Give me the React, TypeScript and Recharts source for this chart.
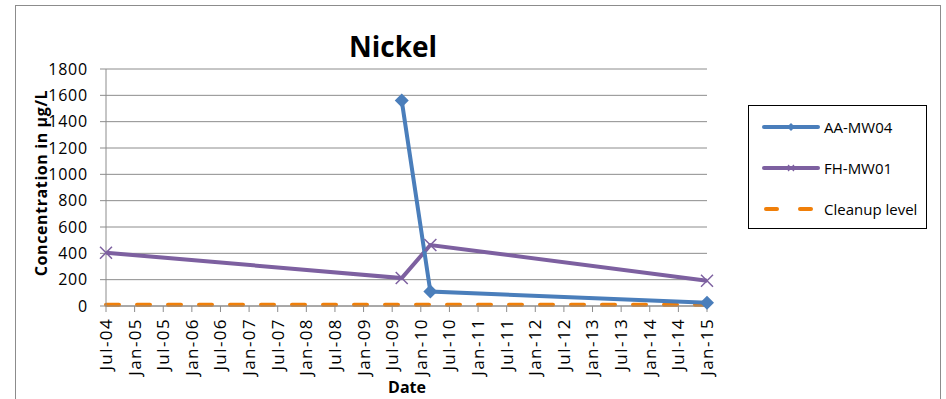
import React from 'react';
import { LineChart, Line, XAxis, YAxis, CartesianGrid, Legend, Label } from 'recharts';

// tick labels, every 6 months starting Jul-04
const tickLabels = [
  'Jul-04', 'Jan-05', 'Jul-05', 'Jan-06', 'Jul-06', 'Jan-07', 'Jul-07', 'Jan-08',
  'Jul-08', 'Jan-09', 'Jul-09', 'Jan-10', 'Jul-10', 'Jan-11', 'Jul-11', 'Jan-12',
  'Jul-12', 'Jan-13', 'Jul-13', 'Jan-14', 'Jul-14', 'Jan-15',
];
const yTicks = [0, 200, 400, 600, 800, 1000, 1200, 1400, 1600, 1800];

// sample dates (YYYY-MM) and concentrations in ug/L
const aaDates = ['2009-09', '2010-03', '2015-01'];
const aaValues = [1560, 110, 25];
const fhDates = ['2004-07', '2009-09', '2010-03', '2015-01'];
const fhValues = [405, 212, 463, 192];
const cleanupDates = ['2004-07', '2015-01'];
const cleanupValues = [10, 10];

const FONT = '"Open Sans", sans-serif';
const BLUE = '#4A7EBB';
const PURPLE = '#7D60A0';
const ORANGE = '#F07F09';

// months since Jul-04
const toMonth = (d: string) => {
  const [y, m] = d.split('-').map(Number);
  return (y - 2004) * 12 + (m - 7);
};
const build = (dates: string[], values: number[]) =>
  dates.map((d, i) => ({ t: toMonth(d), v: values[i] }));

const aaData = build(aaDates, aaValues);
const fhData = build(fhDates, fhValues);
const cleanupData = build(cleanupDates, cleanupValues);
const xTicks = tickLabels.map((_, i) => i * 6);

const Diamond = (props: any) => {
  const { cx, cy } = props;
  if (cx == null || cy == null) return null;
  const r = 7;
  return (
    <polygon
      points={`${cx},${cy - r} ${cx + r},${cy} ${cx},${cy + r} ${cx - r},${cy}`}
      fill={BLUE}
    />
  );
};

const Cross = (props: any) => {
  const { cx, cy } = props;
  if (cx == null || cy == null) return null;
  const r = 6;
  return (
    <g stroke={PURPLE} strokeWidth={1.5}>
      <line x1={cx - r} y1={cy - r} x2={cx + r} y2={cy + r} />
      <line x1={cx - r} y1={cy + r} x2={cx + r} y2={cy - r} />
    </g>
  );
};

const XTick = (props: any) => {
  const { x, y, payload } = props;
  return (
    <text
      x={x}
      y={y}
      transform={`rotate(-90, ${x}, ${y})`}
      textAnchor="end"
      dy="0.35em"
      fontFamily={FONT}
      fontSize={17}
      letterSpacing={1.4}
      fill="#000"
    >
      {tickLabels[Math.round(payload.value / 6)]}
    </text>
  );
};

const LegendBox = () => {
  const row = (label: string, sample: React.ReactNode) => (
    <div style={{ display: 'flex', alignItems: 'center', height: 41 }}>
      <svg width={60} height={14} style={{ marginLeft: 13 }}>
        {sample}
      </svg>
      <span style={{ fontFamily: FONT, fontSize: 15, marginLeft: 2 }}>{label}</span>
    </div>
  );
  return (
    <div
      style={{
        width: 177,
        height: 122,
        border: '1px solid #000',
        background: '#fff',
        boxSizing: 'content-box',
      }}
    >
      {row(
        'AA-MW04',
        <g>
          <line x1={2} y1={7} x2={56} y2={7} stroke={BLUE} strokeWidth={4} strokeLinecap="round" />
          <polygon points="29,3 33,7 29,11 25,7" fill={BLUE} />
        </g>
      )}
      {row(
        'FH-MW01',
        <g>
          <line x1={2} y1={7} x2={56} y2={7} stroke={PURPLE} strokeWidth={4} strokeLinecap="round" />
          <line x1={26} y1={4} x2={32} y2={10} stroke={PURPLE} strokeWidth={1.2} />
          <line x1={26} y1={10} x2={32} y2={4} stroke={PURPLE} strokeWidth={1.2} />
        </g>
      )}
      {row(
        'Cleanup level',
        <g>
          <line x1={4} y1={7} x2={15} y2={7} stroke={ORANGE} strokeWidth={4} strokeLinecap="round" />
          <line x1={38} y1={7} x2={49} y2={7} stroke={ORANGE} strokeWidth={4} strokeLinecap="round" />
        </g>
      )}
    </div>
  );
};

export default function App() {
  return (
    <div style={{ position: 'absolute', left: 0, top: 0, width: 946, height: 399, background: '#fff' }}>
      <svg
        width={946}
        height={399}
        style={{ position: 'absolute', left: 0, top: 0, pointerEvents: 'none' }}
      >
        <rect x={15.5} y={5.5} width={925} height={400} fill="none" stroke="#8c8c8c" />
        <text
          x={393}
          y={57}
          textAnchor="middle"
          fontFamily={FONT}
          fontWeight="bold"
          fontSize={28}
          fill="#000"
        >
          Nickel
        </text>
      </svg>
      <LineChart
        width={946}
        height={399}
        margin={{ top: 69, right: 239, bottom: 5, left: 46 }}
        style={{ position: 'absolute', left: 0, top: 0 }}
      >
        <CartesianGrid vertical={false} stroke="#8c8c8c" strokeWidth={1} />
        <XAxis
          dataKey="t"
          type="number"
          domain={[0, 126]}
          ticks={xTicks}
          interval={0}
          height={88}
          tick={<XTick />}
          tickSize={6}
          tickMargin={6}
          stroke="#8c8c8c"
        >
          <Label
            content={() => (
              <text x={407} y={393} textAnchor="middle" fontFamily={FONT} fontWeight="bold" fontSize={16} fill="#000">
                Date
              </text>
            )}
          />
        </XAxis>
        <YAxis
          type="number"
          domain={[0, 1800]}
          ticks={yTicks}
          interval={0}
          width={60}
          tickSize={6}
          tickMargin={12}
          stroke="#8c8c8c"
          tick={{ fontFamily: FONT, fontSize: 16, fill: '#000', letterSpacing: 0.8 }}
        >
          <Label
            content={() => (
              <text
                x={41}
                y={183}
                transform="rotate(-90, 41, 183)"
                textAnchor="middle"
                dy="0.35em"
                fontFamily={FONT}
                fontWeight="bold"
                fontSize={16}
                letterSpacing={0.6}
                fill="#000"
              >
                Concentration in µg/L
              </text>
            )}
          />
        </YAxis>
        <Legend
          layout="vertical"
          align="center"
          verticalAlign="middle"
          content={<LegendBox />}
          wrapperStyle={{ position: 'absolute', left: 748, top: 105, width: 179 }}
        />
        <Line
          data={cleanupData}
          dataKey="v"
          name="Cleanup level"
          stroke={ORANGE}
          strokeWidth={4}
          strokeDasharray="13 18"
          strokeLinecap="round"
          dot={false}
          activeDot={false}
          isAnimationActive={false}
        />
        <Line
          data={fhData}
          dataKey="v"
          name="FH-MW01"
          stroke={PURPLE}
          strokeWidth={4}
          dot={<Cross />}
          activeDot={false}
          isAnimationActive={false}
        />
        <Line
          data={aaData}
          dataKey="v"
          name="AA-MW04"
          stroke={BLUE}
          strokeWidth={4}
          dot={<Diamond />}
          activeDot={false}
          isAnimationActive={false}
        />
      </LineChart>
    </div>
  );
}
